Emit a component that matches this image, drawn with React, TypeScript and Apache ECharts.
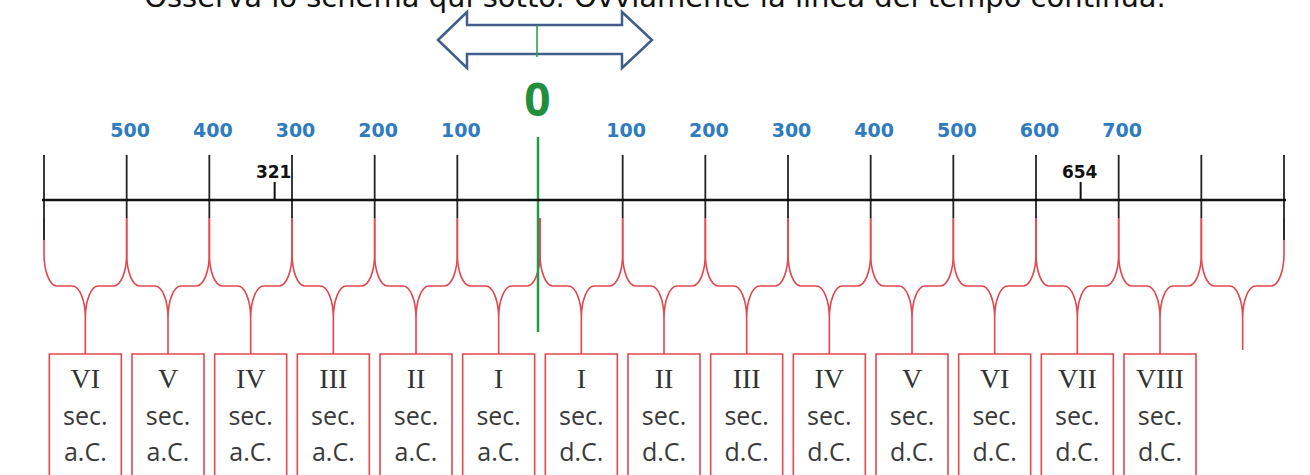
import React, { useEffect, useRef } from "react";
import * as echarts from "echarts";

// ---- data ----
const TITLE = "Osserva lo schema qui sotto. Ovviamente la linea del tempo continua.";
const TICK_YEARS = [-600, -500, -400, -300, -200, -100, 0, 100, 200, 300, 400, 500, 600, 700, 800, 900];
const BC_LABEL_YEARS = [-500, -400, -300, -200, -100];
const BC_LABELS = ["500", "400", "300", "200", "100"];
const AD_LABEL_YEARS = [100, 200, 300, 400, 500, 600, 700];
const AD_LABELS = ["100", "200", "300", "400", "500", "600", "700"];
const EVENT_YEARS = [-321, 654];
const EVENT_LABELS = ["321", "654"];
const ZERO_YEAR = 0;
const ZERO_LABEL = "0";
const CENTURY_NUMERALS = ["VI", "V", "IV", "III", "II", "I", "I", "II", "III", "IV", "V", "VI", "VII", "VIII"];
const CENTURY_WORD = "sec.";
const CENTURY_ERAS = ["a.C.", "a.C.", "a.C.", "a.C.", "a.C.", "a.C.", "d.C.", "d.C.", "d.C.", "d.C.", "d.C.", "d.C.", "d.C.", "d.C."];
const AXIS_LINE_YEARS = [-645, 935];

// ---- layout / style ----
const RED = "#e2474e";
const BLUE = "#2e7bbf";
const GREEN = "#22994a";
const Y_LABEL = 130;
const Y_EVENT_LABEL = 171.5;
const Y_EVENT_TICK = 182;
const Y_TICK_TOP = 155;
const Y_AXIS = 200;
const Y_RED = 218;
const Y_END_BLACK = 240;
const Y_BRACE = 286;
const Y_TIP = 354;
const Y_LAST_TIP = 350;
const BOX_W = 72;
const BOX_BOTTOM = 482;
const RX = 13;
const RY = 32;

function bracePath(xa: number, xb: number, y0: number, y1: number, y2: number) {
  const xm = (xa + xb) / 2;
  const k = 0.45;
  const left =
    `M${xa},${y0} L${xa},${y1 - RY} C${xa},${y1 - RY * k} ${xa + RX * k},${y1} ${xa + RX},${y1} ` +
    `L${xm - RX},${y1} C${xm - RX * k},${y1} ${xm},${y1 + RY * k} ${xm},${y1 + RY} L${xm},${y2}`;
  const right =
    `M${xb},${y0} L${xb},${y1 - RY} C${xb},${y1 - RY * k} ${xb - RX * k},${y1} ${xb - RX},${y1} ` +
    `L${xm + RX},${y1} C${xm + RX * k},${y1} ${xm},${y1 + RY * k} ${xm},${y1 + RY}`;
  return left + " " + right;
}

export default function App() {
  const ref = useRef<HTMLDivElement>(null);
  useEffect(() => {
    const chart = echarts.init(ref.current!, null, { renderer: "svg" });
    const intervals = TICK_YEARS.slice(0, -1).map((y, i) => [y, TICK_YEARS[i + 1], i]);
    const boxes = CENTURY_NUMERALS.map((_, i) => [(TICK_YEARS[i] + TICK_YEARS[i + 1]) / 2, i]);
    const labelData = [
      ...BC_LABEL_YEARS.map((y, i) => [y, i, 0]),
      ...AD_LABEL_YEARS.map((y, i) => [y, i, 1]),
    ];
    const option: any = {
      animation: false,
      grid: { left: 44, right: 26, top: 0, bottom: 0, containLabel: false },
      xAxis: { type: "value", min: -600, max: 900, show: false },
      yAxis: { type: "value", min: 0, max: 475, inverse: true, show: false },
      graphic: [
        {
          type: "text",
          left: "center",
          top: -18,
          style: {
            text: TITLE,
            font: "29px 'DejaVu Sans'",
            fill: "#111",
          },
        },
        {
          type: "polygon",
          shape: {
            points: [
              [438, 40], [467, 12], [467, 25], [622, 25], [622, 12],
              [652, 40], [622, 68], [622, 54], [467, 54], [467, 68],
            ],
          },
          style: { fill: "#fff", stroke: "#3f5f8a", lineWidth: 2.5, lineJoin: "miter" },
        },
      ],
      series: [
        {
          type: "line",
          data: AXIS_LINE_YEARS.map((y) => [y, Y_AXIS]),
          symbol: "none",
          lineStyle: { color: "#111", width: 2.5 },
          silent: true,
        },
        {
          type: "custom",
          data: intervals,
          renderItem: (params: any, api: any) => {
            const i = api.value(2);
            const a = api.coord([api.value(0), Y_RED]);
            const b = api.coord([api.value(1), Y_RED]);
            const y1 = api.coord([0, Y_BRACE])[1];
            const y2 = api.coord([0, i < CENTURY_NUMERALS.length ? Y_TIP : Y_LAST_TIP])[1];
            return {
              type: "path",
              shape: { pathData: bracePath(a[0], b[0], a[1], y1, y2) },
              style: { stroke: RED, fill: "none", lineWidth: 1.6 },
            };
          },
        },
        {
          type: "custom",
          data: TICK_YEARS.map((y, i) => [y, i]),
          renderItem: (params: any, api: any) => {
            const i = api.value(1);
            const last = i === 0 || i === TICK_YEARS.length - 1;
            const p0 = api.coord([api.value(0), Y_TICK_TOP]);
            const p1 = api.coord([api.value(0), last ? Y_END_BLACK : Y_RED]);
            if (api.value(0) === ZERO_YEAR) return null;
            return {
              type: "line",
              shape: { x1: p0[0], y1: p0[1], x2: p1[0], y2: p1[1] },
              style: { stroke: "#222", lineWidth: 1.8 },
            };
          },
        },
        {
          type: "custom",
          data: boxes,
          renderItem: (params: any, api: any) => {
            const i = api.value(1);
            const top = api.coord([api.value(0), Y_TIP]);
            const bottom = api.coord([api.value(0), BOX_BOTTOM]);
            const x = top[0];
            return {
              type: "group",
              children: [
                {
                  type: "rect",
                  shape: { x: x - BOX_W / 2, y: top[1], width: BOX_W, height: bottom[1] - top[1] },
                  style: { fill: "#fff", stroke: RED, lineWidth: 1.6 },
                },
                {
                  type: "text",
                  style: {
                    text: CENTURY_NUMERALS[i], x, y: top[1] + 24,
                    font: "28px 'Liberation Serif'", fill: "#333",
                    align: "center", verticalAlign: "middle",
                  },
                },
                {
                  type: "text",
                  style: {
                    text: CENTURY_WORD, x, y: top[1] + 61,
                    font: "25px 'Open Sans'", fill: "#3a3a3a",
                    align: "center", verticalAlign: "middle",
                  },
                },
                {
                  type: "text",
                  style: {
                    text: CENTURY_ERAS[i], x, y: top[1] + 97,
                    font: "25px 'Open Sans'", fill: "#3a3a3a",
                    align: "center", verticalAlign: "middle",
                  },
                },
              ],
            };
          },
        },
        {
          type: "custom",
          data: labelData,
          renderItem: (params: any, api: any) => {
            const p = api.coord([api.value(0), Y_LABEL]);
            const text = api.value(2) === 0 ? BC_LABELS[api.value(1)] : AD_LABELS[api.value(1)];
            return {
              type: "text",
              style: {
                text, x: p[0] + 3.5, y: p[1],
                font: "bold 19px 'DejaVu Sans'", fill: BLUE,
                align: "center", verticalAlign: "middle",
              },
            };
          },
        },
        {
          type: "custom",
          data: EVENT_YEARS.map((y, i) => [y, i]),
          renderItem: (params: any, api: any) => {
            const p = api.coord([api.value(0), Y_EVENT_LABEL]);
            const t0 = api.coord([api.value(0), Y_EVENT_TICK]);
            const t1 = api.coord([api.value(0), Y_AXIS]);
            return {
              type: "group",
              children: [
                {
                  type: "line",
                  shape: { x1: t0[0], y1: t0[1], x2: t1[0], y2: t1[1] },
                  style: { stroke: "#111", lineWidth: 2 },
                },
                {
                  type: "text",
                  style: {
                    text: EVENT_LABELS[api.value(1)], x: p[0] - 1, y: p[1],
                    font: "bold 17px 'DejaVu Sans'", fill: "#111",
                    align: "center", verticalAlign: "middle",
                  },
                },
              ],
            };
          },
        },
        {
          type: "custom",
          data: [[ZERO_YEAR]],
          renderItem: (params: any, api: any) => {
            const a = api.coord([api.value(0), 137]);
            const b = api.coord([api.value(0), 332]);
            const c = api.coord([api.value(0), 25]);
            const d = api.coord([api.value(0), 57]);
            const t = api.coord([api.value(0), 98]);
            const x = a[0] - 2;
            return {
              type: "group",
              children: [
                {
                  type: "line",
                  shape: { x1: x, y1: a[1], x2: x, y2: b[1] },
                  style: { stroke: GREEN, lineWidth: 2.5 },
                },
                {
                  type: "line",
                  shape: { x1: x - 1, y1: c[1], x2: x - 1, y2: d[1] },
                  style: { stroke: GREEN, lineWidth: 1.5 },
                },
                {
                  type: "text",
                  style: {
                    text: ZERO_LABEL, x: x - 0.5, y: t[1],
                    font: "bold 46px 'Open Sans'", fill: "#1f8f3e",
                    align: "center", verticalAlign: "middle",
                  },
                },
              ],
            };
          },
        },
      ],
    };
    chart.setOption(option);
    return () => chart.dispose();
  }, []);
  return (
    <div
      ref={ref}
      style={{ position: "absolute", left: 0, top: 0, width: 1310, height: 475, background: "#fff" }}
    />
  );
}
